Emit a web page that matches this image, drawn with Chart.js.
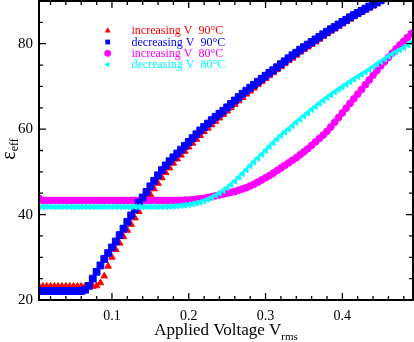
<!DOCTYPE html>
<html>
<head>
<meta charset="utf-8">
<title>Effective permittivity vs applied voltage</title>
<script src="https://cdn.jsdelivr.net/npm/chart.js@4.4.1/dist/chart.umd.min.js"></script>
<style>
  html, body { margin: 0; padding: 0; background: #fff; }
  #wrap { width: 414px; height: 342px; }
</style>
</head>
<body>
<div id="wrap"><canvas id="epsChart" width="414" height="342"></canvas></div>
<script>
// Applied voltage (V rms) for each sample
const voltage = [
  0.005, 0.010, 0.015, 0.020, 0.025, 0.030, 0.035, 0.040, 0.045, 0.050,
  0.055, 0.060, 0.065, 0.070, 0.075, 0.080, 0.085, 0.090, 0.095, 0.100,
  0.105, 0.110, 0.115, 0.120, 0.125, 0.130, 0.135, 0.140, 0.145, 0.150,
  0.155, 0.160, 0.165, 0.170, 0.175, 0.180, 0.185, 0.190, 0.195, 0.200,
  0.205, 0.210, 0.215, 0.220, 0.225, 0.230, 0.235, 0.240, 0.245, 0.250,
  0.255, 0.260, 0.265, 0.270, 0.275, 0.280, 0.285, 0.290, 0.295, 0.300,
  0.305, 0.310, 0.315, 0.320, 0.325, 0.330, 0.335, 0.340, 0.345, 0.350,
  0.355, 0.360, 0.365, 0.370, 0.375, 0.380, 0.385, 0.390, 0.395, 0.400,
  0.405, 0.410, 0.415, 0.420, 0.425, 0.430, 0.435, 0.440, 0.445, 0.450,
  0.455, 0.460, 0.465, 0.470, 0.475, 0.480, 0.485, 0.490
];

// eps_eff, increasing V at 90 C
const incV90 = [
  23.2, 23.2, 23.2, 23.2, 23.2, 23.2, 23.2, 23.2, 23.2, 23.2,
  23.2, 23.2, 23.2, 23.2, 23.2, 23.3, 24.0, 25.6, 27.9, 30.0,
  31.8, 33.3, 34.8, 36.3, 37.7, 39.2, 40.7, 42.1, 43.4, 44.7,
  46.0, 47.3, 48.6, 49.8, 50.9, 52.0, 53.0, 53.9, 54.8, 55.8,
  56.7, 57.6, 58.5, 59.4, 60.2, 61.0, 61.8, 62.6, 63.4, 64.2,
  65.0, 65.8, 66.6, 67.4, 68.2, 68.9, 69.6, 70.4, 71.1, 71.8,
  72.5, 73.2, 73.9, 74.6, 75.3, 76.0, 76.6, 77.3, 78.0, 78.6,
  79.2, 79.8, 80.4, 81.0, 81.7, 82.3, 82.9, 83.4, 84.0, 84.6,
  85.2, 85.7, 86.3, 86.8, 87.3, 87.8, 88.3, 88.8, 89.3, 89.8,
  90.3
];

// eps_eff, decreasing V at 90 C
const decV90 = [
  22.1, 22.1, 22.1, 22.1, 22.1, 22.1, 22.1, 22.1, 22.1, 22.1,
  22.1, 22.1, 22.4, 23.3, 25.0, 26.6, 28.1, 29.6, 31.0, 32.3,
  33.7, 35.2, 36.7, 38.3, 39.8, 41.3, 42.8, 44.0, 45.3, 46.6,
  47.9, 49.2, 50.4, 51.5, 52.5, 53.4, 54.3, 55.2, 56.1, 57.0,
  57.9, 58.8, 59.7, 60.5, 61.3, 62.1, 62.9, 63.6, 64.3, 65.1,
  65.9, 66.7, 67.5, 68.3, 69.0, 69.7, 70.4, 71.1, 71.8, 72.5,
  73.2, 73.8, 74.5, 75.2, 75.9, 76.6, 77.3, 77.9, 78.6, 79.2,
  79.8, 80.4, 81.0, 81.6, 82.2, 82.8, 83.4, 83.9, 84.5, 85.1,
  85.6, 86.2, 86.7, 87.2, 87.7, 88.2, 88.7, 89.2, 89.7, 90.2
];

// eps_eff, increasing V at 80 C
const incV80 = [
  43.8, 43.3, 43.3, 43.3, 43.3, 43.3, 43.3, 43.3, 43.3, 43.3,
  43.3, 43.3, 43.3, 43.3, 43.3, 43.3, 43.3, 43.3, 43.3, 43.3,
  43.3, 43.3, 43.3, 43.3, 43.3, 43.3, 43.3, 43.3, 43.3, 43.3,
  43.3, 43.3, 43.3, 43.3, 43.3, 43.3, 43.3, 43.3, 43.4, 43.4,
  43.5, 43.6, 43.7, 43.8, 44.0, 44.2, 44.4, 44.6, 44.8, 45.0,
  45.2, 45.4, 45.7, 46.0, 46.3, 46.7, 47.1, 47.6, 48.1, 48.6,
  49.1, 49.7, 50.3, 50.9, 51.5, 52.1, 52.7, 53.3, 54.0, 54.7,
  55.4, 56.2, 57.0, 57.8, 58.6, 59.5, 60.5, 61.6, 62.7, 63.8,
  64.9, 66.0, 67.1, 68.2, 69.3, 70.4, 71.5, 72.6, 73.7, 74.8,
  75.8, 76.8, 77.8, 78.8, 79.7, 80.6, 81.5, 82.4
];

// eps_eff, decreasing V at 80 C
const decV80 = [
  41.8, 41.8, 41.8, 41.8, 41.8, 41.8, 41.8, 41.8, 41.8, 41.8,
  41.8, 41.8, 41.8, 41.8, 41.8, 41.8, 41.8, 41.8, 41.8, 41.8,
  41.8, 41.8, 41.8, 41.8, 41.8, 41.8, 41.8, 41.8, 41.8, 41.8,
  41.8, 41.8, 41.8, 41.8, 41.9, 41.9, 42.0, 42.1, 42.2, 42.3,
  42.5, 42.7, 42.9, 43.2, 43.6, 44.0, 44.5, 45.0, 45.6, 46.3,
  47.0, 47.8, 48.7, 49.6, 50.5, 51.4, 52.3, 53.2, 54.1, 55.0,
  55.9, 56.8, 57.7, 58.5, 59.3, 60.0, 60.8, 61.6, 62.3, 63.1,
  63.8, 64.6, 65.3, 66.0, 66.7, 67.4, 68.0, 68.7, 69.3, 69.9,
  70.5, 71.1, 71.7, 72.3, 72.8, 73.4, 73.9, 74.6, 75.2, 75.8,
  76.4, 77.0, 77.6, 78.1, 78.6, 79.1, 79.7, 80.3
];

const seriesLabels = ['increasing V  90\u00b0C', 'decreasing V  90\u00b0C',
                      'increasing V  80\u00b0C', 'decreasing V  80\u00b0C'];
const xTickValues = [0.1, 0.2, 0.3, 0.4];
const yTickValues = [20, 40, 60, 80];

const SERIF = '"Liberation Serif", "Times New Roman", serif';

function pairs(ys) {
  return ys.map((y, i) => ({ x: voltage[i], y: y }));
}

function marker(color, style, radius, rotation, order, label, ys) {
  return {
    label: label,
    data: pairs(ys),
    pointStyle: style,
    pointRadius: radius,
    pointRotation: rotation,
    pointBackgroundColor: color,
    pointBorderColor: color,
    pointBorderWidth: 1,
    backgroundColor: color,
    borderColor: color,
    showLine: false,
    order: order
  };
}

const datasets = [
  marker('#ff0000', 'triangle', 3.8, 0, 3, seriesLabels[0], incV90),
  marker('#0000ff', 'rect', 4.8, 0, 1, seriesLabels[1], decV90),
  marker('#ff00ff', 'circle', 3.4, 0, 2, seriesLabels[2], incV80),
  marker('#00ffff', 'triangle', 3.4, -90, 0, seriesLabels[3], decV80)
];

// simple point shapes for the in-plot legend
function drawShape(ctx, style, x, y, r, rot) {
  ctx.beginPath();
  if (style === 'circle') {
    ctx.arc(x, y, r, 0, Math.PI * 2);
  } else if (style === 'rect') {
    const s = r * Math.SQRT1_2;
    ctx.rect(x - s, y - s, 2 * s, 2 * s);
  } else {
    let a = rot * Math.PI / 180;
    for (let k = 0; k < 3; k++) {
      const px = x + Math.sin(a) * r, py = y - Math.cos(a) * r;
      k === 0 ? ctx.moveTo(px, py) : ctx.lineTo(px, py);
      a += Math.PI * 2 / 3;
    }
    ctx.closePath();
  }
  ctx.fill();
}

// no extra room for tick labels at the ends of the axes
function fixSize(s) {
  if (s.isHorizontal()) s.height = 42; else s.width = 39;
  s.paddingTop = 0; s.paddingBottom = 0;
  s.paddingLeft = 0; s.paddingRight = 0;
}

const framePlugin = {
  id: 'framePlugin',
  afterDatasetsDraw(chart) {
    const { ctx, chartArea: a, scales: { x, y } } = chart;
    ctx.save();
    ctx.strokeStyle = '#000';
    ctx.lineWidth = 1.3;
    ctx.beginPath();
    // minor ticks every 0.02 V, major every 0.1 V, on bottom and top
    for (let k = 1; k <= 24; k++) {
      const px = x.getPixelForValue(k * 0.02);
      const len = k % 5 === 0 ? 7 : 4;
      ctx.moveTo(px, a.bottom); ctx.lineTo(px, a.bottom - len);
      ctx.moveTo(px, a.top); ctx.lineTo(px, a.top + len);
    }
    // minor ticks every 5, major every 20, on left and right
    for (let v = 25; v < 90; v += 5) {
      const py = y.getPixelForValue(v);
      const len = v % 20 === 0 ? 7 : 4;
      ctx.moveTo(a.left, py); ctx.lineTo(a.left + len, py);
      ctx.moveTo(a.right, py); ctx.lineTo(a.right - len, py);
    }
    ctx.stroke();
    ctx.lineWidth = 2;
    ctx.strokeRect(a.left, a.top, a.right - a.left, a.bottom - a.top);
    ctx.restore();
  },
  afterDraw(chart) {
    const { ctx, chartArea: a } = chart;
    ctx.save();
    ctx.fillStyle = '#000';
    ctx.textAlign = 'left';
    ctx.textBaseline = 'alphabetic';

    // x axis title with subscript
    const main = 'Applied Voltage V', sub = 'rms';
    ctx.font = '17px ' + SERIF;
    const wMain = ctx.measureText(main).width;
    ctx.font = '11px ' + SERIF;
    const wSub = ctx.measureText(sub).width;
    const x0 = (a.left + a.right) / 2 - (wMain + wSub) / 2;
    ctx.font = '17px ' + SERIF;
    ctx.fillText(main, x0, 335);
    ctx.font = '11px ' + SERIF;
    ctx.fillText(sub, x0 + wMain, 340);

    // y axis title, rotated, with subscript
    ctx.save();
    ctx.translate(0, 149);
    ctx.rotate(-Math.PI / 2);
    ctx.font = '20px ' + SERIF;
    const wEps = ctx.measureText('\u03b5').width;
    ctx.font = '12px ' + SERIF;
    const wEff = ctx.measureText('eff').width;
    const u0 = -(wEps + wEff) / 2;
    ctx.font = '20px ' + SERIF;
    ctx.fillText('\u03b5', u0, 15);
    ctx.font = '12px ' + SERIF;
    ctx.fillText('eff', u0 + wEps, 18);
    ctx.restore();

    // legend in the upper left of the plot
    ctx.font = '12px ' + SERIF;
    ctx.textBaseline = 'middle';
    chart.data.datasets.forEach((ds, i) => {
      const ly = 30.7 + i * 11.3;
      ctx.fillStyle = ds.pointBackgroundColor;
      drawShape(ctx, ds.pointStyle, 107.7, ly, 3.4, ds.pointRotation);
      ctx.fillText(ds.label, 131.5, ly + 0.5);
    });
    ctx.restore();
  }
};

new Chart(document.getElementById('epsChart'), {
  type: 'scatter',
  data: { datasets: datasets },
  options: {
    responsive: false,
    animation: false,
    devicePixelRatio: 1,
    layout: { autoPadding: false, padding: { top: 1, right: 1, left: 0, bottom: 0 } },
    plugins: {
      legend: { display: false },
      tooltip: { enabled: false }
    },
    scales: {
      x: {
        type: 'linear',
        min: 0.005,
        max: 0.492,
        grid: { display: false, drawTicks: false },
        border: { display: false },
        afterBuildTicks: s => { s.ticks = xTickValues.map(v => ({ value: v })); },
        afterFit: fixSize,
        ticks: {
          color: '#000',
          padding: 8,
          maxRotation: 0,
          font: { family: SERIF, size: 14 },
          callback: v => String(v)
        }
      },
      y: {
        type: 'linear',
        min: 20,
        max: 90,
        grid: { display: false, drawTicks: false },
        border: { display: false },
        afterBuildTicks: s => { s.ticks = yTickValues.map(v => ({ value: v })); },
        afterFit: fixSize,
        ticks: {
          color: '#000',
          padding: 6,
          font: { family: SERIF, size: 15 },
          callback: v => String(v)
        }
      }
    }
  },
  plugins: [framePlugin]
});
</script>
</body>
</html>
